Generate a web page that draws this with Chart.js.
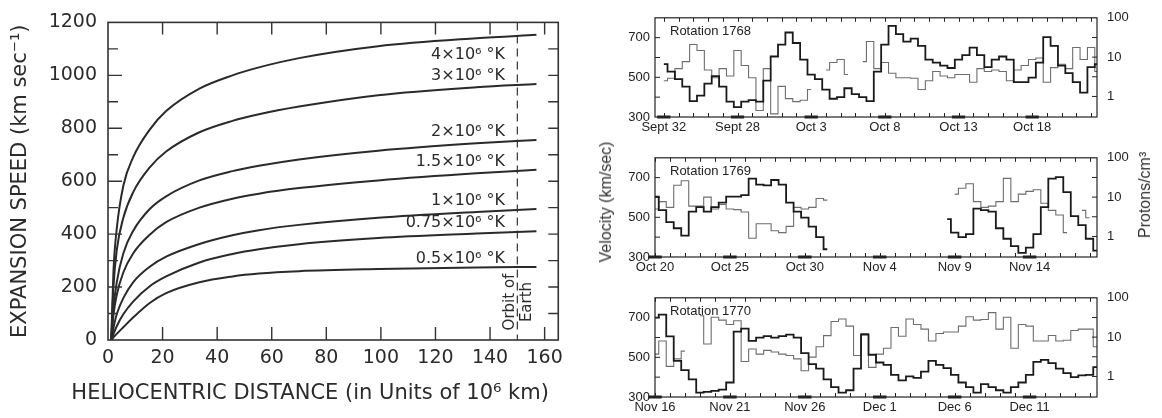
<!DOCTYPE html>
<html>
<head>
<meta charset="utf-8">
<script src="https://cdn.jsdelivr.net/npm/chart.js@4.4.1/dist/chart.umd.min.js"></script>
<style>
    html, body { margin: 0; padding: 0; background: #fff; }
    body { position: relative; width: 1162px; height: 418px; overflow: hidden; font-family: "Liberation Sans", Arial, sans-serif; }
    .box { position: absolute; }
    .side-title { position: absolute; white-space: nowrap; font-size: 16px; line-height: 1; color: #333;
                  transform: translate(-50%, -50%) rotate(-90deg); }
</style>
</head>
<body>
<div class="box" style="left:0;top:0;width:570px;height:418px"><canvas id="parkerChart"></canvas></div>
<div class="box" style="left:590px;top:0;width:572px;height:140px"><canvas id="rot1768"></canvas></div>
<div class="box" style="left:590px;top:140px;width:572px;height:140px"><canvas id="rot1769"></canvas></div>
<div class="box" style="left:590px;top:280px;width:572px;height:138px"><canvas id="rot1770"></canvas></div>
<div class="side-title" style="left:606px;top:202px">Velocity (km/sec)</div>
<div class="side-title" style="left:1145px;top:195px">Protons/cm³</div>

<script>
// ========= LEFT: expansion speed vs heliocentric distance =========
const distance   = [1.2, 2, 3.2, 5.6, 9.2, 15.3, 21.3, 33.5, 45.6, 55.3, 70, 99, 135, 157];
const speed4e6   = [0, 260, 420, 582, 690, 795, 865, 950, 1000, 1030, 1065, 1110, 1140, 1153];
const speed3e6   = [0, 200, 339, 461, 558, 652, 712, 785, 828, 853, 882, 925, 955, 967];
const speed2e6   = [0, 120, 218, 327, 412, 495, 543, 603, 638, 658, 682, 715, 743, 756];
const speed15e5  = [0, 95, 170, 255, 327, 398, 445, 500, 534, 553, 574, 603, 630, 643];
const speed1e6   = [0, 45, 97, 158, 218, 277, 315, 363, 396, 415, 435, 462, 484, 495];
const speed75e4  = [0, 22, 52, 97, 145, 203, 240, 293, 325, 343, 362, 385, 402, 411];
const speed5e5   = [0, 10, 23, 48, 85, 140, 177, 218, 240, 251, 260, 268, 274, 276];
const tempLabels = ['4×10⁶ °K', '3×10⁶ °K', '2×10⁶ °K', '1.5×10⁶ °K', '1×10⁶ °K', '0.75×10⁶ °K', '0.5×10⁶ °K'];
const speedTicks = [0, 200, 400, 600, 800, 1000, 1200];
const distanceTicks = [0, 20, 40, 60, 80, 100, 120, 140, 160];
const earthOrbit = 150;

// ========= RIGHT: solar wind, three Carrington rotations =========
const days = [0, 0.5, 1, 1.5, 2, 2.5, 3, 3.5, 4, 4.5, 5, 5.5, 6, 6.5, 7, 7.5, 8, 8.5, 9, 9.5,
              10, 10.5, 11, 11.5, 12, 12.5, 13, 13.5, 14, 14.5, 15, 15.5, 16, 16.5, 17, 17.5, 18, 18.5, 19, 19.5,
              20, 20.5, 21, 21.5, 22, 22.5, 23, 23.5, 24, 24.5, 25, 25.5, 26, 26.5, 27, 27.5, 28, 28.5, 29, 29.5];
const labelDays = [0, 5, 10, 15, 20, 25];
const velocityTicks = [300, 500, 700];
const densityTicks = [1, 10, 100];

const dates1768 = ['Sept 32', 'Sept 28', 'Oct 3', 'Oct 8', 'Oct 13', 'Oct 18'];
const velocity1768 = [567, 529, 491, 453, 380, 408, 468, 506, 453, 377, 350, 377, 385, 377, 483, 605, 665, 726, 673, 589,
                      514, 491, 438, 392, 400, 445, 415, 400, 380, 529, 665, 759, 718, 680, 695, 658, 589, 574, 559, 547,
                      589, 612, 650, 612, 551, 589, 605, 589, 476, 476, 498, 574, 703, 658, 559, 521, 476, 423, 551, 567];
const density1768 = [2.5, 2.9, 5.1, 7.7, 21, 14.7, 4.7, 3.0, 5.1, 3.3, 14.7, 6.1, 3.0, 0.44, 5.1, 0.36, 1.8, 0.88, 0.74, 0.8,
                     1.5, null, 4.7, 7.3, 8.7, 3.6, null, 7.7, 25, 5.1, 7.3, 3.9, 3.0, 3.0, 2.9, 1.5, 2.5, 4.3, 3.3, 3.0,
                     3.6, 3.6, 2.3, 5.1, 4.3, 4.7, 4.3, 2.5, 4.7, 6.1, 8.7, 9.5, 2.3, 5.4, 6.6, 5.1, 17.5, 8.7, 17.5, 4.3];

const dates1769 = ['Oct 20', 'Oct 25', 'Oct 30', 'Nov 4', 'Nov 9', 'Nov 14'];
const velocity1769 = [604, 536, 476, 445, 408, 529, 551, 529, 551, 574, 604, 604, 612, 695, 665, 661, 688, 665, 574, 529,
                      498, 453, 400, 339, null, null, null, null, null, null, null, null, null, null, null, null, null, null, null, 491,
                      423, 400, 415, 544, 536, 529, 445, 392, 355, 321, 347, 415, 551, 695, 703, 627, 506, 461, 392, 332];
const density1769 = [5.0, 7.7, 5.5, 20, 26, 5.9, 5.9, 10, 5.0, 6.5, 5.0, 4.8, 4.2, 0.9, 2.1, 2.1, 1.4, 1.25, 1.8, 5.5,
                     5.0, 5.5, 9.2, 8.4, null, null, null, null, null, null, null, null, null, null, null, null, null, null, null, null,
                     11.9, 16.8, 21.8, 7.7, 5.5, 5.9, 7.7, 30, 7.7, 11.9, 14, 15.4, 7, 4.6, 3.5, 1.25, null, 4.6, 3.0, null];

const dates1770 = ['Nov 16', 'Nov 21', 'Nov 26', 'Dec 1', 'Dec 6', 'Dec 11'];
const velocity1770 = [700, 715, 606, 482, 435, 389, 322, 326, 331, 337, 373, 630, 645, 583, 599, 607, 599, 607, 614, 599,
                      521, 466, 443, 389, 350, 322, 334, 443, 614, 513, 474, 462, 412, 384, 404, 396, 428, 482, 462, 446,
                      412, 373, 350, 322, 365, 350, 334, 322, 350, 373, 412, 477, 487, 471, 443, 420, 400, 409, 412, 451];
const density1770 = [3.7, 8.0, 1.8, 2.8, 4.4, null, 35, 6.7, 32, 27, 21, 26, 2.4, 5.0, 3.7, 4.6, 4.2, 3.7, 3.4, 2.8,
                     1.4, 3.1, 5.7, 10.9, 25, 29, 19, 3.4, 12.4, 1.7, 3.7, 5.2, 17.5, 10.5, 29, 21, 16, 8, 12.4, 13.5,
                     13.5, 19, 33, 27, 28, 42, 16, 32, 5.2, 21, 19, 8, 8, 11, 8, 8.3, 14.7, 16, 16, 5.7];

const toPoints = (xs, ys) => xs.map((x, i) => ({ x: x, y: ys[i] }));

// ---------- left chart ----------
const curveSpeeds = [speed4e6, speed3e6, speed2e6, speed15e5, speed1e6, speed75e4, speed5e5];

const parkerDecor = {
    id: 'parkerDecor',
    afterDatasetsDraw(chart) {
        const { ctx, chartArea: a, scales: { x, y } } = chart;
        ctx.save();
        ctx.strokeStyle = '#333';
        ctx.lineWidth = 1.6;
        ctx.strokeRect(a.left, a.top, a.right - a.left, a.bottom - a.top);

        // inward tick marks on all four sides
        ctx.lineWidth = 1.4;
        ctx.beginPath();
        for (let v = 20; v < x.max; v += 20) {
            const px = x.getPixelForValue(v);
            ctx.moveTo(px, a.bottom); ctx.lineTo(px, a.bottom - 13);
            ctx.moveTo(px, a.top); ctx.lineTo(px, a.top + 12);
        }
        for (let v = 100; v < y.max; v += 100) {
            const py = y.getPixelForValue(v);
            ctx.moveTo(a.left, py); ctx.lineTo(a.left + (v % 200 ? 10 : 14), py);
            ctx.moveTo(a.right, py); ctx.lineTo(a.right - 10, py);
        }
        ctx.stroke();

        // orbit of Earth
        const ox = x.getPixelForValue(earthOrbit);
        ctx.setLineDash([8, 5]);
        ctx.lineWidth = 1.2;
        ctx.beginPath();
        ctx.moveTo(ox, a.top); ctx.lineTo(ox, a.bottom);
        ctx.stroke();
        ctx.setLineDash([]);

        ctx.fillStyle = '#2b2b2b';
        ctx.font = '15px "DejaVu Sans"';
        ctx.textAlign = 'center';
        ctx.textBaseline = 'middle';
        const oy = a.bottom - 38;
        ctx.save();
        ctx.translate(ox - 7, oy); ctx.rotate(-Math.PI / 2); ctx.fillText('Orbit of', 0, 0);
        ctx.restore();
        ctx.save();
        ctx.translate(ox + 10, oy); ctx.rotate(-Math.PI / 2); ctx.fillText('Earth', 0, 0);
        ctx.restore();

        // temperature labels next to the curve ends
        ctx.font = '16px "DejaVu Sans"';
        ctx.textAlign = 'right';
        const lx = x.getPixelForValue(145.5);
        tempLabels.forEach((txt, i) => {
            const end = curveSpeeds[i][curveSpeeds[i].length - 1];
            const ly = y.getPixelForValue(end) + (i === 0 ? 20 : -8);
            ctx.fillText(txt, lx, ly);
        });

        // x axis title
        ctx.textAlign = 'center';
        ctx.font = '21px "DejaVu Sans"';
        ctx.fillText('HELIOCENTRIC DISTANCE (in Units of 10⁶ km)', (a.left + a.right) / 2 - 23, a.bottom + 54);
        ctx.restore();
    }
};

new Chart(document.getElementById('parkerChart'), {
    type: 'line',
    data: {
        datasets: curveSpeeds.map((s, i) => ({
            label: tempLabels[i],
            data: toPoints(distance, s),
            borderColor: '#2a2a2a',
            borderWidth: 2,
            pointRadius: 0,
            fill: false,
            cubicInterpolationMode: 'monotone'
        }))
    },
    options: {
        responsive: true,
        maintainAspectRatio: false,
        animation: false,
        events: [],
        layout: { padding: { top: 10, right: 8, left: 0, bottom: 0 } },
        plugins: { legend: { display: false }, tooltip: { enabled: false } },
        scales: {
            x: {
                type: 'linear',
                min: 0,
                max: 165,
                afterBuildTicks: s => { s.ticks = distanceTicks.map(v => ({ value: v })); },
                afterFit: s => { s.height = 78; },
                grid: { display: false, drawTicks: false },
                border: { display: false },
                ticks: { color: '#2b2b2b', font: { family: 'DejaVu Sans', size: 19 }, padding: 7,
                         maxRotation: 0, autoSkip: false, callback: v => String(v) }
            },
            y: {
                min: 0,
                max: 1200,
                afterBuildTicks: s => { s.ticks = speedTicks.map(v => ({ value: v })); },
                afterFit: s => { s.width = 108; },
                grid: { display: false, drawTicks: false },
                border: { display: false },
                ticks: { color: '#2b2b2b', font: { family: 'DejaVu Sans', size: 19 }, padding: 11, callback: v => String(v) },
                title: {
                    display: true,
                    text: 'EXPANSION SPEED (km sec⁻¹)',
                    color: '#2b2b2b',
                    font: { family: 'DejaVu Sans', size: 21 },
                    padding: { top: 8, bottom: 0 }
                }
            }
        }
    },
    plugins: [parkerDecor]
});

// ---------- right panels ----------
const panelDecor = {
    id: 'panelDecor',
    afterDatasetsDraw(chart, args, opts) {
        const { ctx, chartArea: a, scales: { x, v, n } } = chart;
        ctx.save();
        ctx.strokeStyle = '#222';
        ctx.lineWidth = 1.2;
        ctx.strokeRect(a.left, a.top, a.right - a.left, a.bottom - a.top);

        ctx.lineWidth = 1;
        ctx.beginPath();
        for (let d = Math.ceil(x.min); d <= x.max; d++) {
            const px = Math.round(x.getPixelForValue(d)) + 0.5;
            ctx.moveTo(px, a.top); ctx.lineTo(px, a.top + 4);
            ctx.moveTo(px, a.bottom); ctx.lineTo(px, a.bottom - 4);
        }
        for (let val = 400; val < 800; val += 100) {
            const py = v.getPixelForValue(val);
            ctx.moveTo(a.left, py); ctx.lineTo(a.left + 5, py);
        }
        [1, Math.sqrt(10), 10, Math.sqrt(1000)].forEach(val => {
            const py = n.getPixelForValue(val);
            ctx.moveTo(a.right, py); ctx.lineTo(a.right - 5, py);
        });
        ctx.stroke();

        // heavier axis segments under each date
        ctx.lineWidth = 3;
        ctx.beginPath();
        labelDays.forEach(d => {
            ctx.moveTo(x.getPixelForValue(d - 0.45), a.bottom);
            ctx.lineTo(x.getPixelForValue(d + 0.45), a.bottom);
        });
        ctx.stroke();

        ctx.fillStyle = '#222';
        ctx.font = '13px "Liberation Sans"';
        ctx.textBaseline = 'middle';
        ctx.fillText(opts.title, a.left + 15, a.top + 14);
        ctx.restore();
    }
};

function makePanel(id, title, dates, velocity, density, dayMin, topPad, axisHeight) {
    new Chart(document.getElementById(id), {
        type: 'line',
        data: {
            datasets: [{
                label: 'Velocity',
                data: toPoints(days, velocity),
                yAxisID: 'v',
                borderColor: '#1a1a1a',
                borderWidth: 1.8,
                pointRadius: 0,
                stepped: 'middle',
                spanGaps: false
            }, {
                label: 'Protons',
                data: toPoints(days, density),
                yAxisID: 'n',
                borderColor: '#6e6e6e',
                borderWidth: 1.1,
                pointRadius: 0,
                stepped: 'middle',
                spanGaps: false
            }]
        },
        options: {
            responsive: true,
            maintainAspectRatio: false,
            animation: false,
            events: [],
            layout: { padding: { top: topPad, left: 0, right: 0, bottom: 0 } },
            plugins: { legend: { display: false }, tooltip: { enabled: false }, panelDecor: { title: title } },
            scales: {
                x: {
                    type: 'linear',
                    min: dayMin,
                    max: dayMin + 29.5 + (dayMin < 0 ? 0.5 : 0),
                    afterBuildTicks: s => { s.ticks = labelDays.map(d => ({ value: d })); },
                    afterFit: s => { s.height = axisHeight; },
                    grid: { display: false, drawTicks: false },
                    border: { display: false },
                    ticks: {
                        color: '#222', font: { family: 'Liberation Sans', size: 13 }, padding: 3,
                        maxRotation: 0, autoSkip: false,
                        callback: (val, i) => dates[i]
                    }
                },
                v: {
                    type: 'linear',
                    position: 'left',
                    min: 300,
                    max: 800,
                    afterBuildTicks: s => { s.ticks = velocityTicks.map(t => ({ value: t })); },
                    afterFit: s => { s.width = 65; },
                    grid: { display: false, drawTicks: false },
                    border: { display: false },
                    ticks: { color: '#222', font: { family: 'Liberation Sans', size: 13 }, padding: 5 }
                },
                n: {
                    type: 'logarithmic',
                    position: 'right',
                    min: 0.32,
                    max: 100,
                    afterBuildTicks: s => { s.ticks = densityTicks.map(t => ({ value: t })); },
                    afterFit: s => { s.width = 65; },
                    grid: { display: false, drawTicks: false },
                    border: { display: false },
                    ticks: { color: '#222', font: { family: 'Liberation Sans', size: 13 }, padding: 10, callback: t => String(t) }
                }
            }
        },
        plugins: [panelDecor]
    });
}

makePanel('rot1768', 'Rotation 1768', dates1768, velocity1768, density1768, -0.6, 7, 23);
makePanel('rot1769', 'Rotation 1769', dates1769, velocity1769, density1769, 0, 7, 23);
makePanel('rot1770', 'Rotation 1770', dates1770, velocity1770, density1770, 0, 8, 21);
</script>
</body>
</html>
